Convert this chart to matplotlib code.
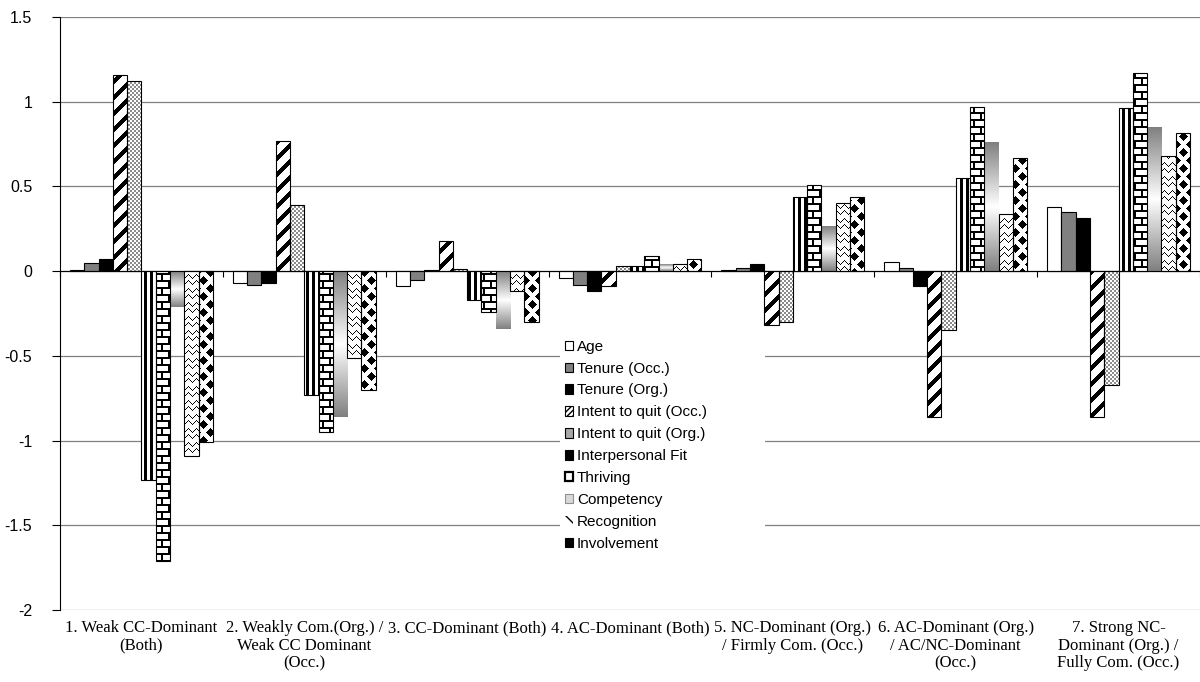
import numpy as np
import matplotlib
matplotlib.use("Agg")
import matplotlib.pyplot as plt
from matplotlib.path import Path
from matplotlib.patches import PathPatch, Patch

# ---- data -------------------------------------------------------------
categories = [
    "1. Weak CC-Dominant\n(Both)",
    "2. Weakly Com.(Org.) /\nWeak CC Dominant\n(Occ.)",
    "3. CC-Dominant (Both)",
    "4. AC-Dominant (Both)",
    "5. NC-Dominant (Org.)\n/ Firmly Com. (Occ.)",
    "6. AC-Dominant (Org.)\n/ AC/NC-Dominant\n(Occ.)",
    "7. Strong NC-\nDominant (Org.) /\nFully Com. (Occ.)",
]
series_names = [
    "Age", "Tenure (Occ.)", "Tenure (Org.)", "Intent to quit (Occ.)",
    "Intent to quit (Org.)", "Interpersonal Fit", "Thriving",
    "Competency", "Recognition", "Involvement",
]
age = [0.005, -0.07, -0.09, -0.04, 0.005, 0.055, 0.38]
tenure_occ = [0.05, -0.08, -0.05, -0.08, 0.02, 0.02, 0.35]
tenure_org = [0.07, -0.07, 0.005, -0.12, 0.045, -0.085, 0.315]
quit_occ = [1.16, 0.77, 0.18, -0.09, -0.32, -0.86, -0.86]
quit_org = [1.12, 0.39, 0.01, 0.03, -0.30, -0.35, -0.67]
interpersonal_fit = [-1.23, -0.73, -0.17, 0.03, 0.44, 0.55, 0.96]
thriving = [-1.71, -0.95, -0.24, 0.09, 0.51, 0.97, 1.17]
competency = [-0.21, -0.86, -0.34, 0.04, 0.26, 0.76, 0.845]
recognition = [-1.09, -0.51, -0.12, 0.04, 0.40, 0.34, 0.68]
involvement = [-1.01, -0.70, -0.30, 0.07, 0.435, 0.665, 0.815]
series_values = [age, tenure_occ, tenure_org, quit_occ, quit_org,
                 interpersonal_fit, thriving, competency, recognition,
                 involvement]
y_ticks = [1.5, 1, 0.5, 0, -0.5, -1, -1.5, -2]
y_tick_labels = ["1.5", "1", "0.5", "0", "-0.5", "-1", "-1.5", "-2"]

# ---- figure -----------------------------------------------------------
W, H = 1200, 682
fig = plt.figure(figsize=(W / 100, H / 100), dpi=100)
fig.patch.set_facecolor("white")
AX_L, AX_B, AX_W, AX_H = 60, 72, 1140, 593
ax = fig.add_axes([AX_L / W, AX_B / H, AX_W / W, AX_H / H])
XLIM = (-0.5, len(categories) - 0.5)
YLIM = (-2, 1.5)

n_series = len(series_names)
bar_w = 0.0877
x = np.arange(len(categories))

# pixel grid of the plotting area (row 0 = top of the axes)
rows, cols = np.indices((AX_H, AX_W))
rows = rows + (H - AX_B - AX_H)
cols = cols + AX_L


def diag_stripes(r, c):
    return ((c + r) % 16) < 6


def checker(r, c):
    return ((r // 2 + c // 2) % 2) == 0


def vstripes(r, c):
    return (c % 6) < 3


def brick(r, c):
    rr = r % 14
    horiz = (rr % 7) < 2
    shift = np.where(rr >= 7, 7, 0)
    seam = ((c + shift) % 14) < 2
    return horiz | seam


def zigzag(r, c):
    tri = np.abs((c % 8) - 4)
    on = ((r - tri) % 7) < 2
    return on & (((r + c) % 2) == 0)


def diamonds(r, c):
    d1 = np.abs((c % 14) - 7) + np.abs((r % 16) - 8)
    d2 = np.abs(((c + 7) % 14) - 7) + np.abs(((r + 8) % 16) - 8)
    return (d1 <= 4) | (d2 <= 4)


def pattern_image(func, fg):
    mask = func(rows, cols)
    img = np.ones((AX_H, AX_W, 3))
    img[mask] = fg
    return img


patterns = {
    3: (diag_stripes, (0, 0, 0)),
    4: (checker, (0.55, 0.55, 0.55)),
    5: (vstripes, (0, 0, 0)),
    6: (brick, (0, 0, 0)),
    8: (zigzag, (0, 0, 0)),
    9: (diamonds, (0, 0, 0)),
}
solid = {0: "white", 1: "#808080", 2: "black"}

for k, vals in enumerate(series_values):
    xs = x + (k - (n_series - 1) / 2) * bar_w
    if k in solid:
        ax.bar(xs, vals, bar_w, color=solid[k], edgecolor="black",
               linewidth=0.8, zorder=3)
    elif k == 7:
        # gray-white-gray vertical gradient
        t = np.linspace(0, 1, 256)
        g = 1 - np.abs(2 * t - 1)
        shade = 0.5 + 0.5 * g
        grad = np.dstack([shade, shade, shade]).reshape(256, 1, 3)
        for xi, v in zip(xs, vals):
            ax.imshow(grad, extent=(xi - bar_w / 2, xi + bar_w / 2,
                                    min(0, v), max(0, v)),
                      aspect="auto", interpolation="bilinear", zorder=3)
    else:
        bars = ax.bar(xs, vals, bar_w, facecolor="none", edgecolor="black",
                      linewidth=0.8, zorder=4)
        paths = [b.get_path().transformed(b.get_patch_transform())
                 for b in bars]
        clip = PathPatch(Path.make_compound_path(*paths),
                         transform=ax.transData)
        func, fg = patterns[k]
        im = ax.imshow(pattern_image(func, fg),
                       extent=(XLIM[0], XLIM[1], YLIM[0], YLIM[1]),
                       aspect="auto", interpolation="nearest", zorder=3)
        im.set_clip_path(clip)

ax.set_xlim(*XLIM)
ax.set_ylim(*YLIM)

# axes styling
ax.set_yticks(y_ticks, y_tick_labels)
ax.tick_params(axis="y", direction="out", length=6, width=0.8,
               color="black", pad=14, labelsize=11.5)
for lab in ax.get_yticklabels():
    lab.set_family("Liberation Sans")
ax.yaxis.grid(True, color="#808080", linewidth=0.9)
ax.set_axisbelow(True)
for side in ("top", "right"):
    ax.spines[side].set_visible(False)
ax.spines["left"].set_color("black")
ax.spines["left"].set_linewidth(0.8)
ax.spines["bottom"].set_position(("data", 0))
ax.spines["bottom"].set_color("black")
ax.spines["bottom"].set_linewidth(0.8)
ax.spines["bottom"].set_zorder(5)
ax.set_xticks(np.arange(XLIM[0], XLIM[1] + 0.01, 1.0))
ax.tick_params(axis="x", direction="out", length=4, width=0.8,
               labelbottom=False)

for i, name in enumerate(categories):
    ax.annotate(name, xy=(i, 0), xycoords=("data", "axes fraction"),
                xytext=(0, -10), textcoords="offset pixels",
                ha="center", va="top", multialignment="center",
                fontsize=12, family="Liberation Serif", linespacing=1.13)

# legend
handles = [
    Patch(facecolor="white", edgecolor="black", linewidth=0.8),
    Patch(facecolor="#808080", edgecolor="black", linewidth=0.8),
    Patch(facecolor="black", edgecolor="black", linewidth=0.8),
    Patch(facecolor="white", edgecolor="black", linewidth=0.8, hatch="//////"),
    Patch(facecolor="#a8a8a8", edgecolor="black", linewidth=0.8),
    Patch(facecolor="black", edgecolor="black", linewidth=0.8),
    Patch(facecolor="white", edgecolor="black", linewidth=1.6),
    Patch(facecolor="#d8d8d8", edgecolor="#909090", linewidth=0.8),
    Patch(facecolor="white", edgecolor="black", linewidth=0, hatch="\\\\"),
    Patch(facecolor="black", edgecolor="black", linewidth=0.8),
]
leg_left, leg_top, leg_width = 560, 335, 205
leg = ax.legend(handles, series_names, loc="upper left",
                bbox_to_anchor=(leg_left / W, 1 - leg_top / H,
                                leg_width / W, 0.0),
                bbox_transform=fig.transFigure, borderaxespad=0,
                mode="expand", borderpad=0.3, frameon=True, fancybox=False,
                facecolor="white", edgecolor="none", framealpha=1,
                handlelength=0.55, handleheight=0.55, handletextpad=0.25,
                labelspacing=0.52,
                prop={"family": "Liberation Sans", "size": 11})
leg.set_zorder(6)

fig.savefig("out.png", dpi=100, facecolor="white")
